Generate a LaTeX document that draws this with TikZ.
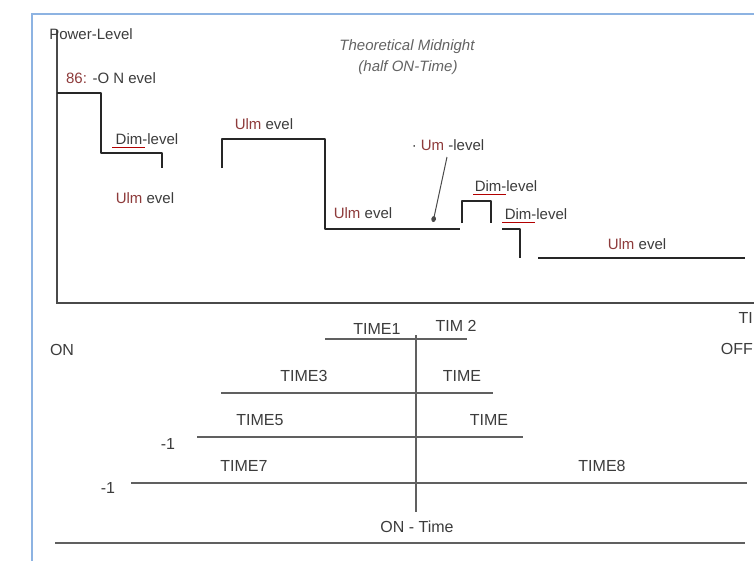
\documentclass[tikz,border=0pt]{standalone}
\usepackage{fontspec}
\setmainfont{Liberation Sans}
\usetikzlibrary{arrows.meta}
\definecolor{frameblue}{HTML}{8DB3E2}
\definecolor{ink}{HTML}{262626}
\definecolor{txt}{HTML}{3C3C3C}
\definecolor{redtxt}{HTML}{8E3B3B}
\definecolor{axisgray}{HTML}{4A4A4A}
\begin{document}
\begin{tikzpicture}[x=1pt,y=-1pt,
  lbl/.style={inner sep=0pt, text=txt, font=\fontsize{15}{17}\selectfont},
  lbllow/.style={inner sep=0pt, text=txt, font=\fontsize{16}{18}\selectfont},
  ital/.style={inner sep=0pt, text=txt!80, font=\fontsize{15}{17}\selectfont\itshape},
  plotline/.style={line width=2.2pt, draw=ink, line join=round},
  axisline/.style={line width=1.6pt, draw=axisgray},
  timeline/.style={line width=1.6pt, draw=gray!75!black},
  pointer/.style={line width=1pt, draw=axisgray, -{Circle[length=6pt, width=4.5pt]}},
  spell/.style={line width=1pt, draw=red!70!black}
]
\useasboundingbox (0,0) rectangle (754,560);
\clip (0,0) rectangle (754,560);
\fill[white] (0,0) rectangle (754,560);
% frame
\draw[frameblue, line width=2.2pt] (32,575) -- (32,14) -- (775,14);
% axes
\draw[axisline] (57,30) -- (57,303) -- (770,303);
% power curve
\draw[plotline] (57,93) -- (101,93) -- (101,153) -- (162,153) -- (162,168);
\draw[plotline] (222,168) -- (222,139) -- (325,139) -- (325,229) -- (460,229);
\draw[plotline] (462,223) -- (462,201) -- (491,201) -- (491,223);
\draw[plotline] (502,229) -- (520,229) -- (520,258);
\draw[plotline] (538,258) -- (745,258);
% upper labels
\node[lbl] (pl) at (91,34) {Power-Level};
\node[lbl] (on1) at (111,78) {\textcolor{redtxt}{86:} -O N evel};
\node[lbl] (dim1) at (147,139) {Dim-level};
\draw[spell] (112,147) -- (145,147);
\node[lbl] (ul1) at (145,198) {\textcolor{redtxt}{Ulm} evel};
\node[lbl] (ul2) at (264,124) {\textcolor{redtxt}{Ulm} evel};
\node[lbl] (ul3) at (363,213) {\textcolor{redtxt}{Ulm} evel};
\node[ital] (th1) at (407,47) {Theoretical Midnight};
\node[ital] (th2) at (408,68) {(half ON-Time)};
\node[lbl] (um) at (448,145) {· \textcolor{redtxt}{Um} -level};
\coordinate (umend) at (433,222);
\draw[pointer] (447,157) -- (umend);
\node[lbl] (dim2) at (506,186) {Dim-level};
\draw[spell] (473,194) -- (506,194);
\node[lbl] (dim3) at (536,214) {Dim-level};
\draw[spell] (502,222) -- (535,222);
\node[lbl] (ul4) at (637,244) {\textcolor{redtxt}{Ulm} evel};
\node[lbllow, anchor=east] (ti) at (753,318) {TI};
\node[lbllow, anchor=east] (off) at (753,349) {OFF};
% lower timing chart
\node[lbllow] (on2) at (62,350) {ON};
\draw[timeline] (416,335) -- (416,512);
\draw[timeline] (325,339) -- (467,339);
\draw[timeline] (221,393) -- (493,393);
\draw[timeline] (197,437) -- (523,437);
\draw[timeline] (131,483) -- (747,483);
\draw[timeline] (55,543) -- (745,543);
\node[lbllow] (t1) at (377,329) {TIME1};
\node[lbllow] (t2) at (456,326) {TIM 2};
\node[lbllow] (t3) at (304,376) {TIME3};
\node[lbllow] (t4) at (462,376) {TIME};
\node[lbllow] (t5) at (260,420) {TIME5};
\node[lbllow] (t6) at (489,420) {TIME};
\node[lbllow] (m1) at (168,444) {-1};
\node[lbllow] (t7) at (244,466) {TIME7};
\node[lbllow] (t8) at (602,466) {TIME8};
\node[lbllow] (m2) at (108,488) {-1};
\node[lbllow] (ont) at (417,527) {ON - Time};
\end{tikzpicture}
\end{document}
